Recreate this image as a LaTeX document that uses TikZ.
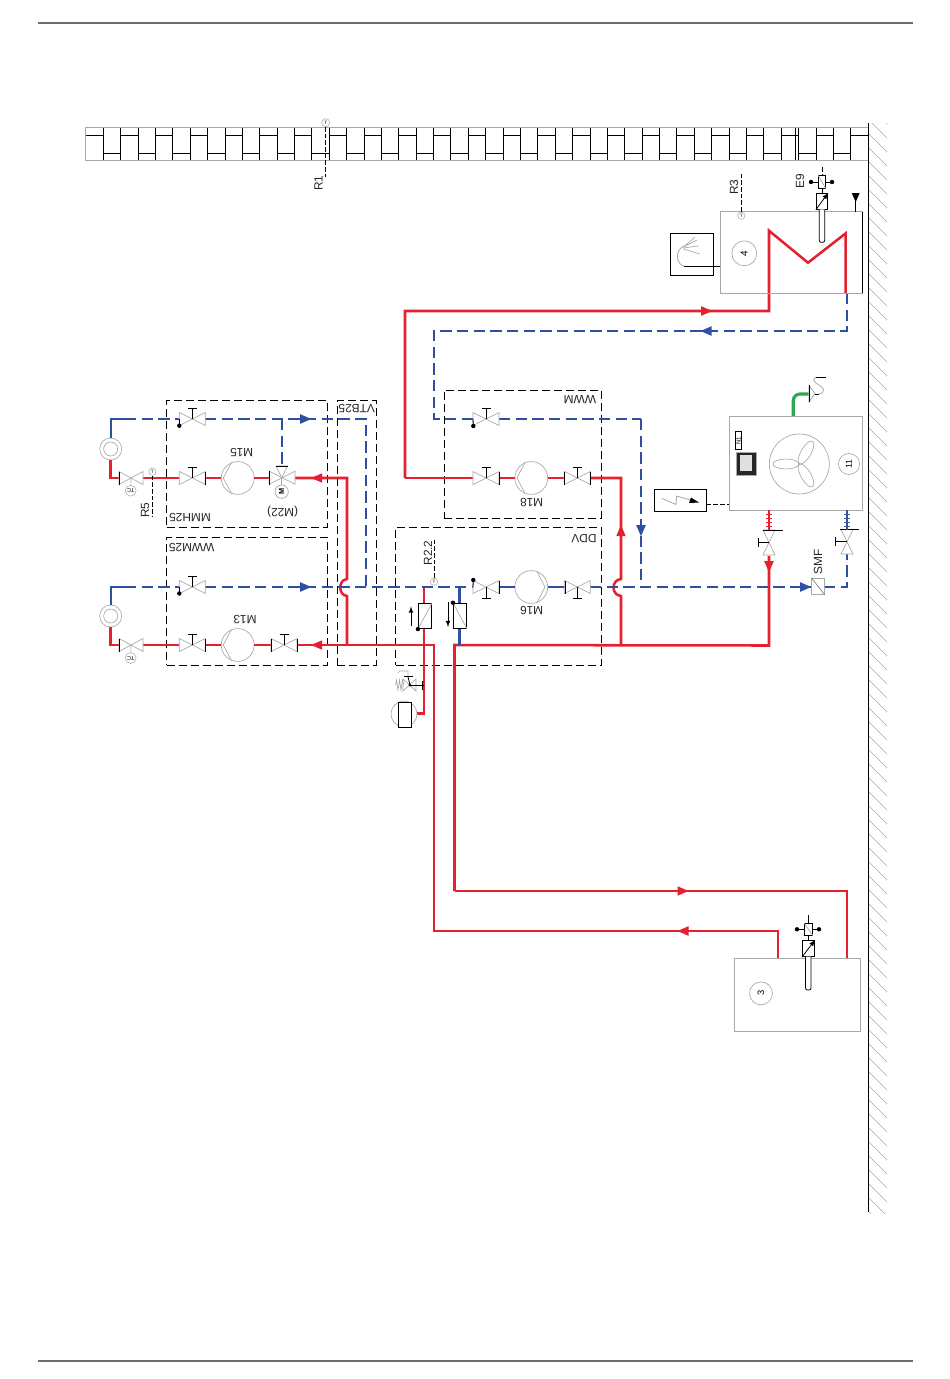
\documentclass[tikz,border=0pt]{standalone}
\usepackage{fontspec}
\setmainfont{Liberation Sans}
\usetikzlibrary{calc}
\definecolor{hotc}{HTML}{E5202F}
\definecolor{coldc}{HTML}{2E4FA3}
\definecolor{greenc}{HTML}{2FA650}
\definecolor{grayc}{HTML}{A8A8A8}
\definecolor{rulec}{HTML}{6E6E6E}
\tikzset{
 hot/.style={draw=hotc,line width=1.9pt,line join=miter},
 hotthin/.style={draw=hotc,line width=1pt},
 coldsolid/.style={draw=coldc,line width=1.6pt},
 cold/.style={draw=coldc,line width=1.6pt,dash pattern=on 8.5pt off 4pt},
 green pipe/.style={draw=greenc,line width=2.4pt,rounded corners=5pt},
 frame/.style={draw=black,line width=.55pt,dash pattern=on 6pt off 3pt},
 sensorline/.style={draw=black,line width=.55pt,dash pattern=on 3.5pt off 1.5pt},
 thinblack/.style={draw=black,line width=.6pt},
 thingray/.style={draw=grayc,line width=.5pt},
 unitbox/.style={draw=grayc,line width=.7pt,fill=white},
 pumpn/.style={circle,draw=grayc,line width=.5pt,fill=white,minimum size=24.6pt,inner sep=0pt,outer sep=0pt},
 radn/.style={circle,draw=grayc,line width=.5pt,fill=white,minimum size=16.5pt,inner sep=0pt,outer sep=0pt},
 numn/.style={circle,draw=grayc,line width=.5pt,fill=white,inner sep=0pt,outer sep=0pt,font=\fontsize{6.5}{7}\selectfont},
 lab/.style={inner sep=0pt,outer sep=0pt,text=black!85,font=\fontsize{8.9}{10}\selectfont},
 tinyn/.style={circle,draw=grayc,line width=.4pt,fill=white,minimum size=5.5pt,inner sep=0pt,font=\fontsize{3.5}{4}\selectfont},
 tcn/.style={circle,draw=grayc,line width=.4pt,fill=white,minimum size=8.2pt,inner sep=0pt,font=\fontsize{4.2}{5}\selectfont},
}
% name, x, y, stem sign (-1 up, 1 down)
\newcommand\hvalve[4]{%
 \coordinate (#1) at (#2,#3);
 \coordinate (#1-l) at (#2-13,#3);
 \coordinate (#1-r) at (#2+13,#3);
 \draw[thingray,fill=white] (#2-13,#3-6.5)--(#2+13,#3+6.5)--(#2+13,#3-6.5)--(#2-13,#3+6.5)--cycle;
 \draw[thinblack] (#2,#3)--(#2,#3+#4*11) (#2-4.5,#3+#4*11)--(#2+4.5,#3+#4*11);
}
\newcommand\barat[2]{\draw[thinblack] (#1,#2-6.5)--(#1,#2+6.5);}
\newcommand\bdot[2]{\fill[black] (#1,#2) circle[radius=2.2];}
\newcommand\arrowh[4]{\fill[#4,shift={(#1,#2)},rotate=#3] (5.5,0)--(-5.5,-4.8)--(-5.5,4.8)--cycle;}
\begin{document}
\begin{tikzpicture}[x=0.75pt,y=-0.75pt]
\useasboundingbox (0,0) rectangle (950,1379);
% page rules
\draw[rulec,line width=1.1pt] (38,23)--(913,23);
\draw[rulec,line width=1.1pt] (38,1361)--(913,1361);
% hatch wall
\begin{scope}
\clip (868,123) rectangle (887,1213);
\foreach \i in {0,...,80} \draw[thingray,line width=.45pt] (868,105+\i*14)--(888,125+\i*14);
\end{scope}
\draw[black,line width=.6pt] (868,123)--(868,1212);
% brick wall
\draw[grayc,line width=.7pt] (868,127.5)--(85,127.5)--(85,160)--(868,160);
\foreach \i in {0,...,40}{
 \pgfmathsetmacro\xa{85.9+17.38*\i}
 \pgfmathsetmacro\xb{\xa+17.38}
 \pgfmathsetmacro\ya{mod(\i,2)==0?135:153.3}
 \ifnum\i>0 \draw[thinblack] (\xa,127.5)--(\xa,160);\fi
 \draw[thinblack] (\xa,\ya)--(\xb,\ya);
}
\foreach \xa/\xb/\ya in {798/816.7/153.3,816.7/833.3/135,833.3/850.7/153.3,850.7/868/135,781/795.7/135}{
 \draw[thinblack] (\xa,\ya)--(\xb,\ya);
 \draw[thinblack] (\xb,127.5)--(\xb,160);
}
\draw[thinblack] (798,127.5)--(798,160);
% R1
\node[tinyn,minimum size=6pt] (r1s) at (325.7,122.7) {T};
\coordinate (r1e) at (325.7,177);
\draw[sensorline] (r1s)--(r1e);
\node[lab,rotate=90] (r1t) at (318.5,183) {R1};
% dashed groups
\node[frame,minimum width=120.4pt,minimum height=94.7pt,inner sep=0pt] (fmmh) at (247,463.8) {};
\node[frame,minimum width=120.4pt,minimum height=96pt,inner sep=0pt] (fwwm25) at (247,601.3) {};
\node[frame,minimum width=29.2pt,minimum height=198.4pt,inner sep=0pt] (fvtb) at (356.8,533) {};
\node[frame,minimum width=154.2pt,minimum height=103.7pt,inner sep=0pt] (fddv) at (498.5,596.1) {};
\node[frame,minimum width=117.8pt,minimum height=96pt,inner sep=0pt] (fwwm) at (522.8,454.2) {};
\node[lab,rotate=180] (tmmh) at (190,517.7) {MMH25};
\node[lab,rotate=180] (twwm25) at (191.7,547.3) {WWM25};
\node[lab,rotate=180] (tvtb) at (356.7,409) {VTB25};
\node[lab,rotate=180] (tddv) at (584,538.3) {DDV};
\node[lab,rotate=180] (twwm) at (580,400) {WWM};
% junction coordinates
\coordinate (jr1) at (110.7,478);
\coordinate (jb1) at (110.7,419);
\coordinate (jr2) at (110.7,645);
\coordinate (jb2) at (110.7,587);
\coordinate (jv) at (366,419);
\coordinate (jh) at (366,587);
\coordinate (j347a) at (347,478);
\coordinate (j347b) at (347,645);
\coordinate (jb3) at (281.7,419);
\coordinate (jw) at (434,419);
\coordinate (jw2) at (641,419);
\coordinate (jw3) at (641,587);
\coordinate (jr3) at (621,478);
\coordinate (jr4) at (621,645.5);
\coordinate (jhp) at (769,645.5);
\coordinate (jb4) at (847,587);
\coordinate (j459) at (459.5,587);
\coordinate (j459b) at (459.5,645);
\coordinate (j424) at (424,587);
% radiators
\node[radn] (rad1) at (110.7,449) {};
\node[radn] (rad2) at (110.7,616) {};
\draw[thingray] (rad1) circle[radius=7];
\draw[thingray] (rad2) circle[radius=7];
% pumps
\node[pumpn] (m15) at (237.7,478) {};
\node[pumpn] (m13) at (237.7,645) {};
\node[pumpn] (m18) at (531.3,478) {};
\node[pumpn] (m16) at (531.3,587) {};
% pipes (hot) under symbols
\draw[hot] (rad1.south)--(jr1)--(119,478);
\draw[hot] (rad2.south)--(jr2)--(119,645);
\draw[hot] (143,478)--(179.3,478);
\draw[hot] (143,645)--(179.3,645);
\draw[hotthin] (205.3,478)--(m15.west);
\draw[hot] (205.3,645)--(m13.west);
\draw[hotthin] (m15.east)--(269,478);
\draw[hot] (m13.east)--(271,645);
\draw[hot] (295,478)--(j347a)--(347,579) .. controls (338,580) and (338,595) .. (347,596)--(j347b);
\draw[hot] (297,645)--(434,645)--(434,931)--(778,931)--(778,958);
\draw[hot] (j424)--(424,713.3)--(416.7,713.3);
\draw[hot] (454.5,891)--(847,891)--(847,958);
\draw[hot] (454.5,891)--(454.5,645)--(jhp)--(769,556);
\draw[hot] (405,478)--(473,478);
\draw[hot] (405,478)--(405,311)--(769,311)--(769,230.7)--(808,262.7)--(845.7,233.3)--(845.7,293.3);
\draw[hotthin] (499,478)--(m18.west);
\draw[hot] (m18.east)--(564,478);
\draw[hot] (590.7,478)--(jr3)--(621,579) .. controls (611,580) and (611,595) .. (621,596)--(jr4);
% cold pipes
\draw[coldsolid] (rad1.north)--(jb1)--(125,419);
\draw[cold] (125,419)--(179.3,419);
\draw[cold] (205,419)--(jv)--(jh);
\draw[cold] (jb3)--(281.7,466);
\draw[coldsolid] (rad2.north)--(jb2)--(125,587);
\draw[cold] (125,587)--(179.3,587);
\draw[cold] (205,587)--(473,587);
\draw[coldsolid] (j459)--(j459b);
\draw[coldsolid] (499,587)--(m16.west);
\draw[coldsolid] (m16.east)--(565,587);
\draw[cold] (590,587)--(811,587);
\draw[cold] (jw2)--(jw3);
\draw[cold] (499,419)--(jw2);
\draw[cold] (473,419)--(jw)--(434,331)--(847,331)--(847,293);
\draw[cold] (824,587)--(jb4)--(847,553);
% valves
\hvalve{v1}{192.3}{419}{-1}
\hvalve{v2}{192.3}{587}{-1}
\hvalve{v3}{192.3}{478}{-1}
\hvalve{v4}{192.3}{645}{-1}
\hvalve{v5}{284}{645}{-1}
\hvalve{v6}{486}{419}{-1}
\hvalve{v7}{486}{478}{-1}
\hvalve{v8}{577.3}{478}{-1}
\hvalve{v9}{486}{587}{1}
\hvalve{v10}{577.3}{587}{1}
\barat{205.5}{478}\barat{205.5}{645}\barat{271}{645}\barat{297}{645}
\barat{499}{478}\barat{564.3}{478}\barat{590.7}{478}\barat{499}{587}\barat{565}{587}
% dots on blue valves
\draw[thinblack] (v1-l)--(179.3,425.7); \bdot{179.3}{425.7}
\draw[thinblack] (v2-l)--(179.3,593.5); \bdot{179.3}{593.5}
\draw[thinblack] (v6-l)--(473.3,426); \bdot{473.3}{426}
\draw[thinblack] (v9-l)--(473.3,580); \bdot{473.3}{580}
% TC valves
\draw[thingray,fill=white] (119,471.5)--(143,484.5)--(143,471.5)--(119,484.5)--cycle;
\draw[thingray,fill=white] (119,638.5)--(143,651.5)--(143,638.5)--(119,651.5)--cycle;
\barat{119}{478}\barat{119}{645}
\coordinate (tcv1) at (131,478);
\coordinate (tcv2) at (131,645);
\node[tcn,rotate=180] (tc1) at (130.7,490.7) {TC};
\node[tcn,rotate=180] (tc2) at (130.7,658) {TC};
\draw[thingray] (tcv1)--(tc1);
\draw[thingray] (tcv2)--(tc2);
% R5 sensor
\node[tinyn] (r5s) at (152.3,471.7) {T};
\coordinate (r5e) at (152.3,517);
\draw[sensorline] (r5s.south)--(r5e);
\node[lab,rotate=90] (r5t) at (145,510) {R5};
% motor valve M22
\coordinate (v22) at (281.7,477.7);
\draw[thingray,fill=white] (269.3,471.2)--(295,484.2)--(295,471.2)--(269.3,484.2)--cycle;
\draw[thingray,fill=white] (281.7,477.7)--(276,466)--(287.5,466)--cycle;
\draw[thinblack] (269.3,471)--(269.3,484.5) (276,466)--(287.5,466);
\node[numn,minimum size=10pt,rotate=90,font=\bfseries\fontsize{5.5}{6}\selectfont] (mot) at (281.7,491.7) {M};
\draw[thingray] (v22)--(mot);
\node[lab,rotate=180] (tm22) at (282.7,511.7) {(M22)};
% chevrons of pumps
\draw[thingray] (231.5,462.5)--(223.3,478)--(231.5,493.5);
\draw[thingray] (231.5,629.5)--(223.3,645)--(231.5,660.5);
\draw[thingray] (525,462.5)--(517,478)--(525,493.5);
\draw[thingray] (537,571.5)--(545,587)--(537,602.5);
\node[lab,rotate=180] (tm15) at (241.7,453) {M15};
\node[lab,rotate=180] (tm13) at (245,619.3) {M13};
\node[lab,rotate=180] (tm18) at (531.7,502.7) {M18};
\node[lab,rotate=180] (tm16) at (531.7,611) {M16};
% arrows
\arrowh{305.7}{419}{0}{coldc}
\arrowh{305.7}{587}{0}{coldc}
\arrowh{316.7}{478}{180}{hotc}
\arrowh{316.7}{645}{180}{hotc}
\arrowh{621}{530.7}{90}{hotc}
\arrowh{641}{530.7}{-90}{coldc}
\arrowh{706.7}{311}{0}{hotc}
\arrowh{706}{331}{180}{coldc}
\arrowh{683}{891}{0}{hotc}
\arrowh{683}{931}{180}{hotc}
\arrowh{769}{566.7}{-90}{hotc}
\arrowh{805.7}{587}{0}{coldc}
% R2.2
\node[tinyn] (r22s) at (434,581.7) {T};
\coordinate (r22e) at (434,539);
\draw[sensorline] (r22s)--(r22e);
\node[lab,rotate=90] (r22t) at (428,553) {R2.2};
% mixing / flow components in DDV
\node[draw=black,line width=.6pt,fill=white,minimum width=10pt,minimum height=19pt,inner sep=0pt] (fa) at (460,615.8) {};
\draw[thingray] (fa.north west)--(fa.south east);
\fill[black] (fa.north west) circle[radius=2.2];
\draw[thinblack,-latex] (448,602)--(448,627);
\node[draw=black,line width=.6pt,fill=white,minimum width=10pt,minimum height=19pt,inner sep=0pt] (fb) at (425,616) {};
\draw[thingray] (fb.north east)--(fb.south west);
\fill[black] (fb.south west) circle[radius=2.2];
\draw[thinblack,-latex] (411,626)--(411,606.5);
% expansion vessel and safety valve
\node[circle,draw=grayc,line width=.5pt,fill=white,minimum size=19.5pt,inner sep=0pt] (vessel) at (404,714) {};
\node[draw=black,line width=.6pt,fill=white,minimum width=9.5pt,minimum height=18.7pt,inner sep=0pt] (vesselr) at (404.6,714.8) {};
\coordinate (sv) at (410,685);
\draw[thingray] (403,679)--(416,691)--(416,679)--(403,691)--cycle;
\draw[thinblack] (sv)--(424,685) (422,680.5)--(422,689.5);
\fill[black] (sv) circle[radius=1.5];
\draw[black,line width=1.1pt] (404,676.7)--(413,676.7);
\draw[thinblack] (sv)--(408,676.7);
\draw[thingray] (408,676)--(408,671)--(400,671)--(398,673);
\draw[thingray] (404,685)--(402.5,680)--(401,690)--(399.5,680)--(398,690)--(396.5,680)--(395.5,685);
% heat pump unit 11
\node[unitbox,minimum width=99.8pt,minimum height=70.5pt,inner sep=0pt] (u11) at (795.8,463) {};
\coordinate (fan) at (799.3,464);
\draw[thingray] (fan) circle[radius=30];
\draw[thingray] (786,464) ellipse[x radius=13,y radius=5];
\draw[thingray,rotate around={60:(806,452.5)}] (806,452.5) ellipse[x radius=13,y radius=5];
\draw[thingray,rotate around={-60:(806,475.5)}] (806,475.5) ellipse[x radius=13,y radius=5];
\node[numn,minimum size=15.8pt,rotate=90] (n11) at (849,464) {11};
\node[fill=black!85,draw=grayc,line width=.3pt,minimum width=15.7pt,minimum height=17.7pt,inner sep=0pt] (ctrl) at (746.2,463.5) {};
\node[fill=black!12,minimum width=8.7pt,minimum height=12pt,inner sep=0pt] (ctrli) at (746,463) {};
\node[draw=black,line width=.5pt,fill=white,minimum width=4.7pt,minimum height=13.5pt,inner sep=0pt,rotate=0] (n1) at (738.5,440.7) {};
\node[rotate=90,inner sep=0pt,font=\fontsize{4.5}{5}\selectfont] (n1t) at (738.5,440.7) {N1};
% power box
\node[draw=black,line width=.6pt,fill=white,minimum width=39.3pt,minimum height=16.5pt,inner sep=0pt] (pwr) at (680.5,500.3) {};
\draw[thingray,line width=.6pt] (661.7,498.3)--(676,504.5)--(676.7,496)--(692,500.5);
\fill[black] (699,502.5)--(691,497.5)--(689,503)--cycle;
\coordinate (u11p) at (729.3,504.3);
\draw[sensorline] (706.7,504.3)--(u11p);
% green gas pipe and tap
\coordinate (g1) at (793.3,416);
\coordinate (g2) at (808.5,394);
\draw[green pipe] (g1)--(793.3,394)--(g2);
\draw[thingray,line width=.6pt,fill=white] (809,385.5)--(815,393.7)--(809,402)--cycle;
\draw[thinblack] (809,385)--(809,402);
\draw[thinblack] (815,394)--(819,394);
\draw[thingray,line width=.6pt] (819,394) .. controls (826,393) and (824,387) .. (819,385) .. controls (814,383) and (812,378) .. (816,377);
\draw[thinblack] (816,377)--(826,377);
% service valves
\coordinate (vh) at (769,542.3);
\draw[thingray,fill=white] (763,530)--(775,555)--(763,555)--(775,530)--cycle;
\draw[thinblack] (763,530)--(782.7,530) (vh)--(758.5,542.3) (758.5,538)--(758.5,547);
\coordinate (vc) at (846.7,541.7);
\draw[thingray,fill=white] (841,529.5)--(853,554)--(841,554)--(853,529.5)--cycle;
\draw[thinblack] (840,529.5)--(859,529.5) (vc)--(835.5,541.7) (835.5,537)--(835.5,546);
% flexible connectors
\draw[hot] (769,510)--(769,530);
\draw[coldsolid] (847,510)--(847,529.5);
\foreach \yy in {514,518,522,526}{
 \draw[hotc,line width=.5pt] (766,\yy)--(772,\yy);
 \draw[coldc!70!gray,line width=.5pt] (844,\yy)--(850,\yy);
}
% SMF
\node[draw=grayc,line width=.5pt,fill=white,minimum width=9.4pt,minimum height=12.2pt,inner sep=0pt] (smf) at (818,586.2) {};
\draw[draw=black!55,line width=.45pt] (smf.north west)--(smf.south east);
\node[lab,rotate=90] (tsmf) at (818,561.7) {SMF};
% cylinder 4
\node[unitbox,fill=none,minimum width=106pt,minimum height=61.2pt,inner sep=0pt] (b4) at (791.5,252.5) {};
\draw[black,line width=.6pt] (862.3,211.7)--(862.3,293.3);
\node[numn,minimum size=18.7pt,rotate=90,font=\fontsize{7.5}{8}\selectfont] (n4) at (744.3,253.3) {4};
\node[draw=black,line width=.7pt,fill=white,minimum width=32pt,minimum height=32pt,inner sep=0pt] (shower) at (692,254.6) {};
\coordinate (sh) at (684,266);
\draw[thinblack] (sh)--(b4.west |- sh);
\draw[thingray,line width=.6pt] (684,266) .. controls (677,265) and (674,252) .. (683.3,246);
\draw[thingray,line width=.5pt] (683.3,247)--(695,237.3) (683.3,247)--(697,240) (683.3,248)--(698.3,246) (683.3,249)--(700,254);
\node[tinyn] (r3s) at (741.3,215.7) {T};
\coordinate (r3e) at (741.3,172.7);
\draw[sensorline] (r3s)--(r3e);
\node[lab,rotate=90] (r3t) at (734,187.3) {R3};
% probe with actuator cylinder 4
\node[lab,rotate=90] (e9t) at (800,181) {E9};
\node[draw=black,line width=.6pt,fill=white,minimum width=5.6pt,minimum height=10pt,inner sep=0pt] (e9a) at (822,182) {};
\draw[thingray] (e9a.north west)--(e9a.south east);
\node[draw=black,line width=.6pt,fill=white,minimum width=8.6pt,minimum height=12pt,inner sep=0pt] (e9b) at (822,201.3) {};
\draw[black,line width=.6pt,-latex] (e9b.south west)--(e9b.north east);
\draw[thinblack,fill=white,rounded corners=1.5pt] (819.2,209.3)--(819.2,242.3)--(824.8,242.3)--(824.8,209.3);
\draw[thinblack] (e9a)--(e9b);
\coordinate (e9l) at (811,182);\coordinate (e9r) at (832,182);
\draw[thinblack] (e9l)--(e9a.west) (e9r)--(e9a.east);
\bdot{811}{182}\bdot{832}{182}
\coordinate (e9top) at (822,167);
\draw[sensorline] (e9top)--(e9a.north);
% vent marker
\coordinate (vm) at (855.7,211.7);
\fill[black] (851.7,193)--(859.7,193)--(855.7,202)--cycle;
\draw[thinblack] (855.7,200)--(vm);
% tank 3
\node[unitbox,fill=none,minimum width=94.5pt,minimum height=54.5pt,inner sep=0pt] (b3) at (797.3,994.7) {};
\node[numn,minimum size=17.2pt,rotate=90,font=\fontsize{7}{8}\selectfont] (n3) at (761,993.3) {3};
\node[draw=black,line width=.6pt,fill=white,minimum width=6.2pt,minimum height=9pt,inner sep=0pt] (e3a) at (808.5,929.3) {};
\draw[thingray] (e3a.north west)--(e3a.south east);
\node[draw=black,line width=.6pt,fill=white,minimum width=9.2pt,minimum height=12.2pt,inner sep=0pt] (e3b) at (808.5,948.5) {};
\draw[black,line width=.6pt,-latex] (e3b.south west)--(e3b.north east);
\draw[thinblack,fill=white,rounded corners=1.5pt] (805.5,956.7)--(805.5,990)--(811,990)--(811,956.7);
\draw[thinblack] (e3a)--(e3b);
\coordinate (e3l) at (797,929.3);\coordinate (e3r) at (819,929.3);
\draw[thinblack] (e3l)--(e3a.west) (e3r)--(e3a.east);
\bdot{797}{929.3}\bdot{819}{929.3}
\coordinate (e3top) at (808.5,915);
\draw[thinblack] (e3top)--(e3a.north);
\end{tikzpicture}
\end{document}
